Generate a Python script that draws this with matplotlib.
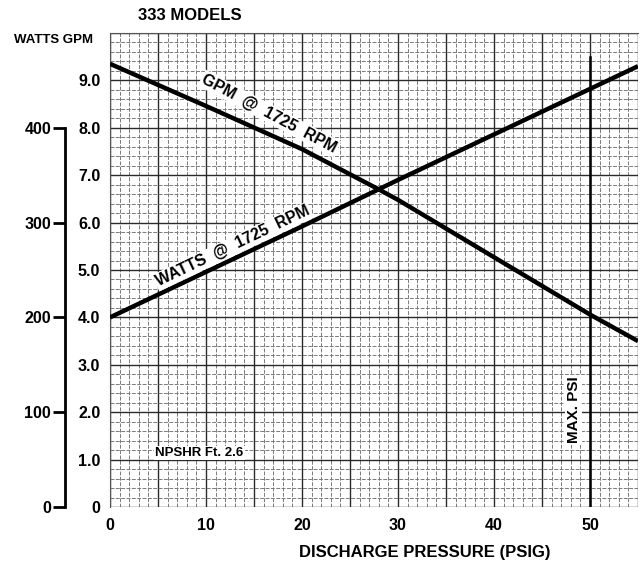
import matplotlib
matplotlib.use("Agg")
import matplotlib.pyplot as plt
from matplotlib.ticker import MultipleLocator, FuncFormatter

plt.rcParams['font.family'] = ['Liberation Sans', 'DejaVu Sans']
plt.rcParams['font.weight'] = 'bold'

# Data
psi = [0, 10, 20, 28, 30, 40, 50, 55]
gpm = [9.35, 8.46, 7.55, 6.70, 6.48, 5.27, 4.06, 3.50]
psi_w = [0, 10, 20, 30, 40, 50, 55]
watts = [200, 248, 296, 345, 393, 441, 465]
max_psi = 50
npshr_text = "NPSHR Ft. 2.6"
x_ticks = [0, 10, 20, 30, 40, 50]
gpm_ticks = [0, 1, 2, 3, 4, 5, 6, 7, 8, 9]
watt_ticks = [0, 100, 200, 300, 400]

W, H = 640, 569
fig = plt.figure(figsize=(W / 100, H / 100), dpi=100)
L, R, B, T = 110, 638, 507, 33
pos = [L / W, 1 - B / H, (R - L) / W, (B - T) / H]
ax = fig.add_axes(pos)
ax.set_xlim(0, 55)
ax.set_ylim(0, 10)

# graph-paper grid
ax.xaxis.set_major_locator(MultipleLocator(5))
ax.xaxis.set_minor_locator(MultipleLocator(1))
ax.yaxis.set_major_locator(MultipleLocator(1))
ax.yaxis.set_minor_locator(MultipleLocator(0.2))
ax.grid(which='minor', color='#7a7a7a', linewidth=0.7, linestyle=(0, (4, 1.5)))
ax.grid(which='major', color='#2a2a2a', linewidth=1.0)
ax.set_axisbelow(True)

ax.xaxis.set_major_formatter(FuncFormatter(lambda v, p: f"{int(round(v))}" if int(round(v)) in x_ticks else ""))
ax.yaxis.set_major_formatter(FuncFormatter(lambda v, p: ("0" if v == 0 else f"{v:.1f}") if int(round(v)) in gpm_ticks and v < 9.5 else ""))
ax.tick_params(which='both', length=0)
ax.tick_params(axis='x', labelsize=11.5, pad=8)
ax.tick_params(axis='y', labelsize=11.5, pad=7)
for s in ['right', 'bottom']:
    ax.spines[s].set_visible(False)
ax.spines['left'].set_color('#555555')
ax.spines['top'].set_color('#555555')

# lines
ax.plot(psi, gpm, color='black', linewidth=3.2, solid_capstyle='butt', zorder=3)
ax.plot(psi_w, [w / 50.0 for w in watts], color='black', linewidth=3.2, solid_capstyle='butt', zorder=3)
ax.plot([max_psi, max_psi], [0, 9.5], color='black', linewidth=1.8, zorder=3)

# annotations
ax.text(16.6, 8.3, "GPM  @  1725  RPM", rotation=-28, ha='center', va='center',
        fontsize=11.5, fontweight='bold', zorder=4,
        bbox=dict(facecolor='white', edgecolor='none', pad=1))
ax.text(12.8, 5.5, "WATTS  @  1725  RPM", rotation=25.5, ha='center', va='center',
        fontsize=11.5, fontweight='bold', zorder=4,
        bbox=dict(facecolor='white', edgecolor='none', pad=1))
ax.text(48.3, 2.05, "MAX. PSI", rotation=90, ha='center', va='center',
        fontsize=11, fontweight='bold', zorder=4,
        bbox=dict(facecolor='white', edgecolor='none', pad=1))
ax.text(4.7, 1.14, npshr_text, ha='left', va='center', fontsize=9.5,
        fontweight='bold', zorder=4,
        bbox=dict(facecolor='white', edgecolor='none', pad=1))

# watts axis
axw = fig.add_axes(pos)
axw.set_xlim(0, 55)
axw.set_ylim(0, 500)
axw.patch.set_visible(False)
axw.xaxis.set_visible(False)
for s in ['right', 'top', 'bottom']:
    axw.spines[s].set_visible(False)
axw.spines['left'].set_position(('outward', 45 * 0.72))
axw.spines['left'].set_bounds(0, 400)
axw.spines['left'].set_linewidth(2.0)
axw.set_yticks(watt_ticks)
axw.set_yticklabels([str(t) for t in watt_ticks])
axw.tick_params(axis='y', direction='out', length=9, width=2.0, labelsize=11.5, pad=1)
for lab in axw.get_yticklabels():
    lab.set_fontweight('bold')

for lab in ax.get_xticklabels() + ax.get_yticklabels():
    lab.set_fontweight('bold')

fig.text(14 / W, 1 - 40 / H, "WATTS GPM", ha='left', va='center', fontsize=9.5, fontweight='bold')
fig.text(190 / W, 1 - 15 / H, "333 MODELS", ha='center', va='center', fontsize=12, fontweight='bold')
fig.text(425 / W, 1 - 552 / H, "DISCHARGE PRESSURE (PSIG)", ha='center', va='center', fontsize=12, fontweight='bold')

fig.savefig("out.png", dpi=100)
